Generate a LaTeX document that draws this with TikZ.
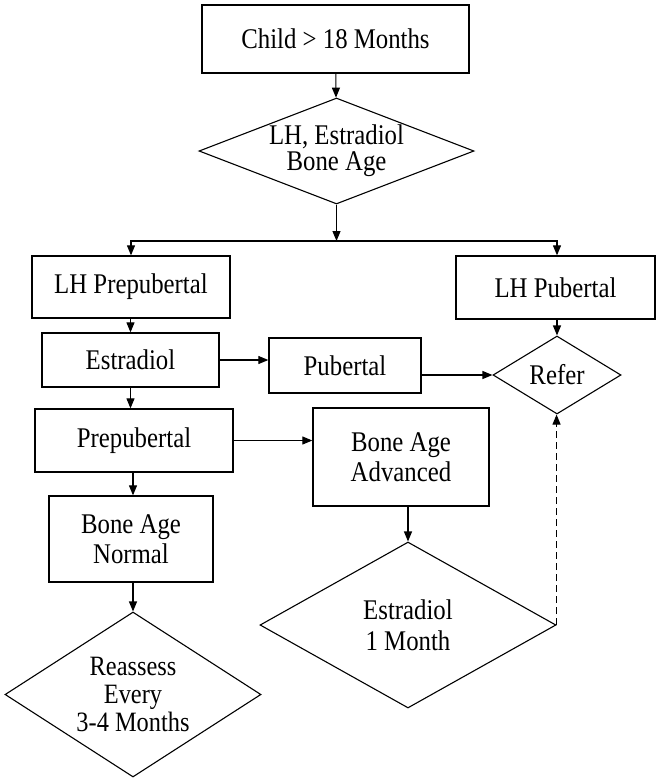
\documentclass[tikz,border=0pt]{standalone}
\usepackage{fontspec}
\setmainfont{Liberation Serif}[FakeStretch=0.87]
\usetikzlibrary{shapes.geometric,arrows.meta}
\begin{document}
\begin{tikzpicture}[x=1pt,y=-1pt,
  box/.style={draw,line width=1.3pt,rectangle,inner sep=0pt,align=center,
    font=\fontsize{28.5}{30}\selectfont},
  decision/.style={draw,line width=1.1pt,diamond,inner sep=0pt,align=center,
    font=\fontsize{28.5}{30}\selectfont},
  arr/.style={line width=1.1pt,-{Triangle[length=10pt,width=8pt]}},
  dasharr/.style={arr,dash pattern=on 7pt off 4pt}]
\useasboundingbox (0,0) rectangle (657,780);

% boxes
\node[box,minimum width=267pt,minimum height=68pt] (child) at (335.5,39) {Child > 18 Months};
\node[box,minimum width=198pt,minimum height=62pt] (lhpre) at (131,287) {LH Prepubertal};
\node[box,minimum width=199pt,minimum height=63pt] (lhpub) at (555.5,287.5) {LH Pubertal};
\node[box,minimum width=177pt,minimum height=54pt] (estr) at (130.5,360) {Estradiol};
\node[box,minimum width=152pt,minimum height=55pt] (pub) at (345,365.5) {Pubertal};
\node[box,minimum width=198pt,minimum height=63pt] (prep) at (134,440.5) {Prepubertal};
\node[box,minimum width=176pt,minimum height=98pt] (badv) at (401,457) {Bone Age\\Advanced};
\node[box,minimum width=164pt,minimum height=86pt] (bnorm) at (131,539) {Bone Age\\Normal};

% decisions
\node[decision,shape aspect=2.6,minimum width=275pt,minimum height=106pt,
  font=\fontsize{28.5}{26}\selectfont] (tests) at (336.5,151) {LH, Estradiol\\Bone Age};
\node[decision,shape aspect=1.64,minimum width=128pt,minimum height=78pt] (refer) at (557,375) {Refer};
\node[decision,shape aspect=1.55,minimum width=256pt,minimum height=165pt,
  font=\fontsize{28}{28}\selectfont] (reassess) at (133,694.5) {Reassess\\Every\\3-4 Months};
\node[decision,shape aspect=1.78,minimum width=296pt,minimum height=166pt,
  font=\fontsize{28.5}{31}\selectfont] (recheck) at (408,625) {Estradiol\\1 Month};

% split point below the first decision
\coordinate (split) at (336.5,241);

% connectors
\draw[arr] (child) -- (tests);
\draw[arr] (tests) -- (split);
\draw[arr] (split) -| (lhpre.north);
\draw[arr] (split) -| (refer.north |- lhpub.north);
\draw[arr] (estr.north |- lhpre.south) -- (estr.north);
\draw[arr] (estr.east) -- (estr.east -| pub.west);
\draw[arr] (pub.east |- refer.west) -- (refer.west);
\draw[arr] (refer.north |- lhpub.south) -- (refer.north);
\draw[arr] (estr.south) -- (estr.south |- prep.north);
\draw[arr] (prep.east) -- (prep.east -| badv.west);
\draw[arr] (reassess.north |- prep.south) -- (reassess.north |- bnorm.north);
\draw[arr] (reassess.north |- bnorm.south) -- (reassess.north);
\draw[arr] (recheck.north |- badv.south) -- (recheck.north);
\draw[dasharr] (recheck.east) -- (recheck.east |- refer.south);
\end{tikzpicture}
\end{document}
